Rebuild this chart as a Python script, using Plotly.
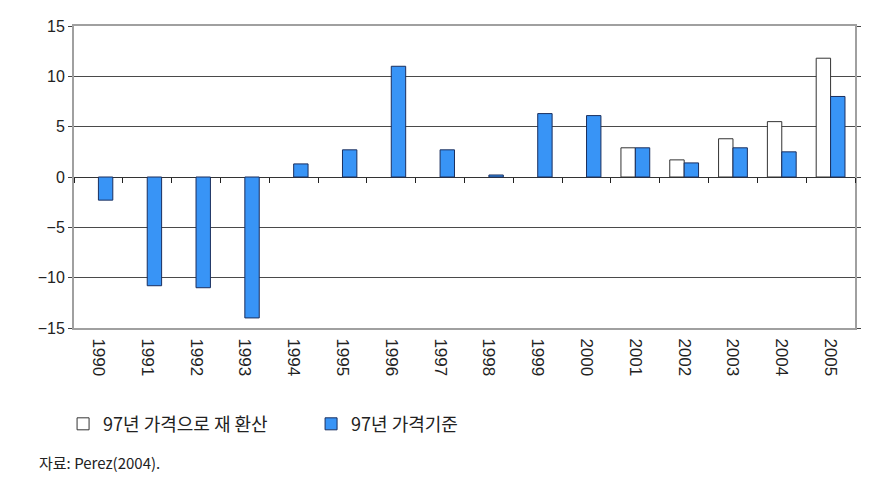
import plotly.graph_objects as go

years = [str(y) for y in range(1990, 2006)]
reconverted = [None, None, None, None, None, None, None, None, None, None, None,
               2.9, 1.7, 3.8, 5.5, 11.8]
base97 = [-2.3, -10.8, -11.0, -14.0, 1.3, 2.7, 11.0, 2.7, 0.2, 6.3, 6.1,
          2.9, 1.4, 2.9, 2.5, 8.0]
series_names = ["97년 가격으로 재 환산", "97년 가격기준"]
y_ticks = [-15, -10, -5, 0, 5, 10, 15]

KFONT = "Noto Sans CJK KR"
NFONT = "Liberation Sans"

fig = go.Figure()
fig.add_trace(go.Bar(x=years, y=reconverted, name=series_names[0],
                     marker=dict(color="white", line=dict(color="#333333", width=1))))
fig.add_trace(go.Bar(x=years, y=base97, name=series_names[1],
                     marker=dict(color="#3894f6", line=dict(color="#1b2f5e", width=1))))
# invisible trace that carries the axis drawn along the zero line (boundary ticks)
fig.add_trace(go.Scatter(x=years, y=base97, xaxis="x2", showlegend=False,
                         hoverinfo="skip", mode="markers",
                         marker=dict(opacity=0, size=1)))

fig.update_layout(
    width=896, height=504,
    margin=dict(l=74, r=41, t=26, b=176),
    paper_bgcolor="white", plot_bgcolor="white",
    barmode="group", bargap=0.41, bargroupgap=0,
    showlegend=True,
    legend=dict(orientation="h", x=-0.014, y=-0.257, xanchor="left", yanchor="top",
                font=dict(family=KFONT, size=18, color="#222"),
                entrywidth=203, entrywidthmode="pixels",
                itemwidth=30, traceorder="normal"),
    xaxis=dict(type="category", categoryorder="array", categoryarray=years,
               range=[-0.5, len(years) - 0.5],
               tickangle=90, tickfont=dict(family=NFONT, size=17, color="#222"),
               ticklabelstandoff=5,
               ticks="", showline=True, linecolor="#a0a0a0", linewidth=2, mirror=True,
               showgrid=False),
    xaxis2=dict(type="category", categoryorder="array", categoryarray=years,
                range=[-0.5, len(years) - 0.5], overlaying="x", anchor="free",
                position=0.5, side="bottom", tickson="boundaries", ticks="outside",
                ticklen=5, tickcolor="#222", tickwidth=1, showticklabels=False,
                showline=False, showgrid=False, zeroline=False),
    yaxis=dict(range=[-15, 15], tickvals=y_ticks, ticks="outside", ticklen=4,
               tickcolor="#444",
               tickfont=dict(family=NFONT, size=16, color="#222"),
               showgrid=True, gridcolor="#4a4a4a", gridwidth=1,
               zeroline=True, zerolinecolor="#333", zerolinewidth=1,
               showline=True, linecolor="#a0a0a0", linewidth=2, mirror="ticks"),
)

fig.add_annotation(text="자료: Perez(2004).", xref="paper", yref="paper",
                   x=-0.048, y=-0.445, xanchor="left", yanchor="middle",
                   showarrow=False, font=dict(family=KFONT, size=15, color="#222"))

fig.write_html("out.html")
